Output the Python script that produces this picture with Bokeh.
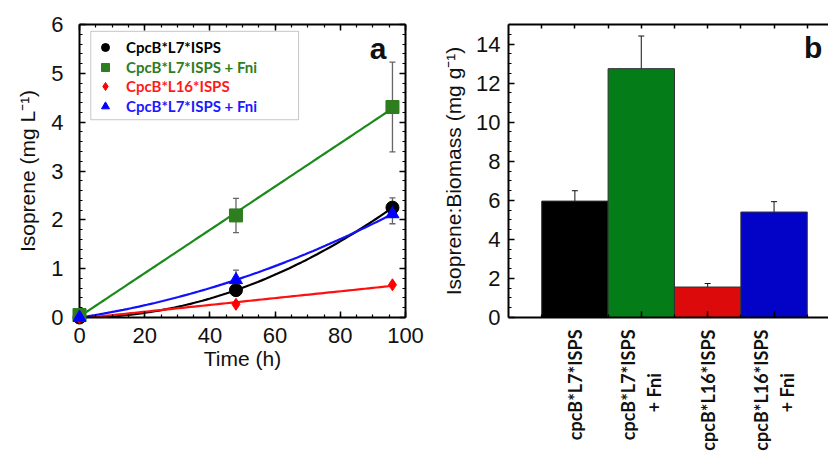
import math
import numpy as np
from bokeh.plotting import figure
from bokeh.layouts import row
from bokeh.models import (ColumnDataSource, Whisker, TeeHead, Legend, LegendItem, LinearAxis,
                          SingleIntervalTicker, FixedTicker, Range1d, BoxAnnotation, Label,
                          CustomJSTickFormatter)
from bokeh.embed import file_html
from bokeh.resources import INLINE

# ---------------- data: panel a ----------------
time_h = [0, 48, 96]
l7 = [0.0, 0.56, 2.25]
l7_err = [0.0, 0.0, 0.2]
l7_fni = [0.05, 2.09, 4.31]
l7_fni_err = [0.0, 0.35, 0.92]
l16 = [0.0, 0.27, 0.67]
l16_err = [0.0, 0.0, 0.0]
l7_fni_blue = [0.0, 0.77, 2.12]
l7_fni_blue_err = [0.0, 0.2, 0.2]
series_labels = ["CpcB*L7*ISPS", "CpcB*L7*ISPS + Fni", "CpcB*L16*ISPS", "CpcB*L7*ISPS + Fni"]

# ---------------- data: panel b ----------------
NB = "\u00a0" * 10  # keeps the second label line centred under the first
strains = ["cpcB*L7*ISPS", "cpcB*L7*ISPS\n+ Fni" + NB, "cpcB*L16*ISPS", "cpcB*L16*ISPS\n+ Fni" + NB]
strain_pos = [1, 2, 3, 4]
ratio = [5.96, 12.74, 1.56, 5.40]
ratio_err = [0.53, 1.67, 0.18, 0.53]

# ---------------- styles ----------------
TICK_FONT = "Liberation Sans"
line_colors = ["#000000", "#1a8a1a", "#ff1010", "#1010ff"]
marker_colors = ["#000000", "#2e7d1e", "#ff0000", "#0000ff"]
text_colors = ["#000000", "#2e7d1e", "#ff1a1a", "#1a1aff"]
markers = ["circle", "square", "diamond", "triangle"]
msizes = [13, 13, 12, 13]
fit_deg = [2, 1, 1, 2]
bar_colors = ["#000000", "#047c17", "#dc0a0a", "#0303c8"]

blank = CustomJSTickFormatter(code="return ''")


def style_axis(ax, labels=True):
    ax.axis_line_color = "black"
    ax.axis_line_width = 2
    ax.major_tick_in = 6
    ax.major_tick_out = 0
    ax.minor_tick_in = 3
    ax.minor_tick_out = 0
    ax.major_tick_line_color = "black"
    ax.minor_tick_line_color = "black"
    ax.major_tick_line_width = 1.5
    ax.minor_tick_line_width = 1.2
    ax.major_label_text_font = TICK_FONT
    ax.major_label_text_font_size = "22px"
    ax.major_label_text_color = "#111111"
    ax.axis_label_text_font = TICK_FONT
    ax.axis_label_text_font_size = "21px"
    ax.axis_label_text_font_style = "normal"
    ax.axis_label_text_color = "#111111"
    if not labels:
        ax.formatter = blank


# ---------------- panel a ----------------
p1 = figure(width=428, height=459, output_backend="svg", toolbar_location=None,
            x_range=Range1d(0, 100), y_range=Range1d(0, 6),
            min_border_left=79, min_border_right=23, min_border_top=24, min_border_bottom=142,
            x_axis_label="Time (h)", y_axis_label="Isoprene (mg L\u207b\u00b9)")
p1.outline_line_color = None
p1.grid.visible = False
p1.xaxis.ticker = SingleIntervalTicker(interval=20, num_minor_ticks=4)
p1.yaxis.ticker = SingleIntervalTicker(interval=1, num_minor_ticks=5)
style_axis(p1.xaxis[0])
style_axis(p1.yaxis[0])
p1.yaxis.major_label_standoff = 16
p1.yaxis.axis_label_standoff = 9
p1.xaxis.major_label_standoff = 10
p1.xaxis.axis_label_standoff = 1
top1 = LinearAxis(ticker=SingleIntervalTicker(interval=20, num_minor_ticks=4))
right1 = LinearAxis(ticker=SingleIntervalTicker(interval=1, num_minor_ticks=5))
style_axis(top1, labels=False)
style_axis(right1, labels=False)
p1.add_layout(top1, "above")
p1.add_layout(right1, "right")

all_vals = [l7, l7_fni, l16, l7_fni_blue]
all_errs = [l7_err, l7_fni_err, l16_err, l7_fni_blue_err]
t = np.array(time_h, dtype=float)
tt = np.linspace(0, 96, 80)
scatter_renderers = []
for vals, errs, lc, deg in zip(all_vals, all_errs, line_colors, fit_deg):
    v = np.array(vals)
    e = np.array(errs)
    coef = np.polyfit(t, v, deg)
    p1.line(tt, np.polyval(coef, tt), line_color=lc, line_width=2.2)
    mask = e > 0
    if mask.any():
        src = ColumnDataSource(dict(x=t[mask], up=(v + e)[mask], lo=(v - e)[mask]))
        p1.add_layout(Whisker(source=src, base="x", upper="up", lower="lo",
                              line_color="#666666", line_width=1.3,
                              upper_head=TeeHead(size=6, line_color="#666666", line_width=1.3),
                              lower_head=TeeHead(size=6, line_color="#666666", line_width=1.3)))
for vals, mc, mk, ms in zip(all_vals, marker_colors, markers, msizes):
    r = p1.scatter(time_h, vals, marker=mk, size=ms, fill_color=mc, line_color=mc, level="overlay")
    scatter_renderers.append(r)

# legend (one per entry so each label has its own colour)
p1.add_layout(BoxAnnotation(left=3.46, right=67.2, bottom=4.05, top=5.86,
                            fill_alpha=0, line_color="#444444", line_width=1, level="annotation"))
row_bottoms = [260, 240, 221, 201]
for lab, r, tc, yb in zip(series_labels, scatter_renderers, text_colors, row_bottoms):
    lg = Legend(items=[LegendItem(label=lab, renderers=[r])], location=(16, yb),
                border_line_color=None, background_fill_alpha=0, padding=0, margin=0,
                spacing=0, glyph_width=20, glyph_height=20, label_height=20,
                label_standoff=11, label_text_color=tc, label_text_font="Lato",
                label_text_font_style="bold", label_text_font_size="15px")
    p1.add_layout(lg, "center")

p1.add_layout(Label(x=89, y=5.5, text="a", text_font=TICK_FONT, text_font_style="bold",
                    text_font_size="30px", text_color="#111111", text_baseline="alphabetic"))

# ---------------- panel b ----------------
p2 = figure(width=400, height=459, output_backend="svg", toolbar_location=None,
            x_range=Range1d(0, 4.82), y_range=Range1d(0, 15),
            min_border_left=80, min_border_right=0, min_border_top=23, min_border_bottom=140,
            y_axis_label="Isoprene:Biomass (mg g\u207b\u00b9)")
p2.outline_line_color = None
p2.grid.visible = False
p2.vbar(x=strain_pos, top=ratio, width=1.0, fill_color=bar_colors, line_color="#333333",
        line_width=1)
bsrc = ColumnDataSource(dict(x=strain_pos,
                             up=[r + e for r, e in zip(ratio, ratio_err)],
                             lo=[r - e for r, e in zip(ratio, ratio_err)]))
p2.add_layout(Whisker(source=bsrc, base="x", upper="up", lower="lo", line_color="#111111",
                      line_width=1,
                      upper_head=TeeHead(size=6, line_color="#111111", line_width=1),
                      lower_head=TeeHead(size=6, line_color="#111111", line_width=1)))
style_axis(p2.xaxis[0])
style_axis(p2.yaxis[0])
p2.yaxis.ticker = SingleIntervalTicker(interval=2, num_minor_ticks=4)
p2.yaxis.major_label_standoff = 8
p2.yaxis.axis_label_standoff = 8
p2.xaxis.ticker = FixedTicker(ticks=strain_pos, minor_ticks=[0.5, 1.5, 2.5, 3.5, 4.5])
p2.xaxis.major_label_overrides = {pos: s for pos, s in zip(strain_pos, strains)}
p2.xaxis.major_label_orientation = math.pi / 2
p2.xaxis.major_label_text_font = "Lato"
p2.xaxis.major_label_text_font_style = "bold"
p2.xaxis.major_label_text_font_size = "18px"
p2.xaxis.major_label_standoff = 12
top2 = LinearAxis(ticker=FixedTicker(ticks=[0.5, 1, 1.5, 2, 2.5, 3, 3.5, 4, 4.5]))
style_axis(top2, labels=False)
top2.major_tick_in = 4
p2.add_layout(top2, "above")
p2.add_layout(Label(x=4.45, y=13.8, text="b", text_font=TICK_FONT, text_font_style="bold",
                    text_font_size="30px", text_color="#111111", text_baseline="alphabetic"))

layout = row(p1, p2)
open("out.html", "w").write(file_html(layout, INLINE))
